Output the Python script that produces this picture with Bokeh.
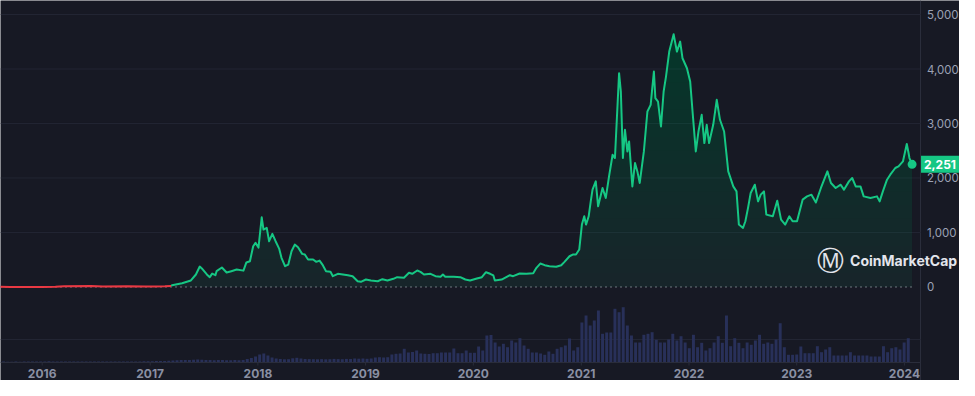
import numpy as np
import pandas as pd
from bokeh.plotting import figure
from bokeh.models import Range1d, Span, Label
from bokeh.core.properties import value
from bokeh.embed import file_html
from bokeh.resources import INLINE

# ---------------- data ----------------
price_dates = [
    "2015-08-10", "2015-09-15", "2015-10-20", "2016-01-01", "2016-02-15", "2016-03-15",
    "2016-06-15", "2016-07-25", "2016-10-15", "2016-12-15", "2017-01-15", "2017-02-20",
    "2017-03-13", "2017-03-16", "2017-04-19", "2017-05-19", "2017-06-05", "2017-06-18",
    "2017-06-25", "2017-07-12", "2017-07-22", "2017-07-30", "2017-08-10", "2017-08-14",
    "2017-09-01", "2017-09-17", "2017-10-03", "2017-10-21", "2017-11-13", "2017-11-23",
    "2017-12-05", "2017-12-16", "2017-12-24", "2018-01-03", "2018-01-14", "2018-01-20",
    "2018-01-31", "2018-02-08", "2018-02-19", "2018-03-02", "2018-03-14", "2018-03-22",
    "2018-04-03", "2018-04-14", "2018-04-25", "2018-05-06", "2018-05-17", "2018-05-31",
    "2018-06-09", "2018-06-20", "2018-07-07", "2018-07-18", "2018-07-29", "2018-08-09",
    "2018-08-20", "2018-09-04", "2018-09-12", "2018-09-29", "2018-10-16", "2018-11-02",
    "2018-11-18", "2018-12-05", "2018-12-16", "2019-01-02", "2019-01-19", "2019-02-11",
    "2019-02-27", "2019-03-16", "2019-04-05", "2019-04-18", "2019-05-11", "2019-05-28",
    "2019-06-08", "2019-06-25", "2019-07-06", "2019-07-18", "2019-08-09", "2019-08-26",
    "2019-09-12", "2019-09-20", "2019-09-28", "2019-10-27", "2019-11-18", "2019-12-05",
    "2019-12-21", "2020-01-13", "2020-01-30", "2020-02-13", "2020-02-27", "2020-03-09",
    "2020-03-14", "2020-04-06", "2020-05-04", "2020-05-15", "2020-06-06", "2020-06-29",
    "2020-07-22", "2020-08-02", "2020-08-15", "2020-08-30", "2020-09-15", "2020-10-08",
    "2020-10-25", "2020-11-05", "2020-11-22", "2020-12-03", "2020-12-14", "2020-12-25",
    "2021-01-03", "2021-01-11", "2021-01-17", "2021-01-26", "2021-02-02", "2021-02-08",
    "2021-02-19", "2021-02-27", "2021-03-14", "2021-03-25", "2021-04-05", "2021-04-17",
    "2021-04-25", "2021-05-09", "2021-05-15", "2021-05-22", "2021-05-29", "2021-06-06",
    "2021-06-12", "2021-06-23", "2021-07-02", "2021-07-10", "2021-07-18", "2021-08-01",
    "2021-08-13", "2021-08-24", "2021-09-04", "2021-09-09", "2021-09-18", "2021-09-28",
    "2021-10-07", "2021-10-15", "2021-10-26", "2021-11-10", "2021-11-21", "2021-12-02",
    "2021-12-10", "2021-12-25", "2022-01-05", "2022-01-13", "2022-01-24", "2022-02-02",
    "2022-02-13", "2022-02-22", "2022-03-02", "2022-03-10", "2022-03-24", "2022-04-05",
    "2022-04-16", "2022-04-30", "2022-05-14", "2022-05-31", "2022-06-11", "2022-06-19",
    "2022-07-03", "2022-07-11", "2022-07-20", "2022-07-29", "2022-08-12", "2022-08-23",
    "2022-09-01", "2022-09-12", "2022-09-20", "2022-10-12", "2022-10-27", "2022-11-09",
    "2022-11-23", "2022-12-07", "2022-12-18", "2023-01-02", "2023-01-21", "2023-02-05",
    "2023-02-20", "2023-03-07", "2023-03-24", "2023-04-15", "2023-04-27", "2023-05-13",
    "2023-05-30", "2023-06-10", "2023-06-27", "2023-07-08", "2023-07-20", "2023-08-05",
    "2023-08-16", "2023-09-08", "2023-09-30", "2023-10-09", "2023-10-20", "2023-11-03",
    "2023-11-14", "2023-12-01", "2023-12-12", "2023-12-27", "2024-01-09", "2024-01-15",
    "2024-01-18", "2024-01-27",
]
price_values = [
    2.8, 1.0, 0.6, 1.0, 5, 12,
    18, 11, 12, 8, 10, 13,
    20, 33, 70, 120, 229, 375,
    340, 230, 180, 245, 216, 290,
    357, 265, 290, 320, 300, 450,
    473, 747, 809, 723, 1278, 1053,
    1084, 840, 974, 840, 705, 535,
    381, 412, 656, 778, 729, 608,
    595, 504, 504, 461, 485, 400,
    290, 278, 198, 242, 229, 216,
    198, 106, 95, 137, 119, 106,
    143, 119, 150, 180, 168, 260,
    242, 302, 278, 229, 242, 198,
    187, 229, 187, 187, 180, 137,
    119, 156, 180, 271, 242, 211,
    119, 137, 216, 198, 247, 242,
    253, 352, 430, 400, 381, 370,
    400, 461, 564, 595, 595, 687,
    1145, 1297, 1145, 1297, 1571, 1786,
    1938, 1480, 1817, 1634, 2029, 2427,
    2366, 3923, 3587, 2366, 2885, 2487,
    2670, 1846, 2275, 2121, 1909, 2487,
    3220, 3342, 3953, 3465, 3403, 2945,
    3587, 3861, 4319, 4636, 4319, 4502,
    4197, 4014, 3770, 3220, 2487, 2853,
    3159, 2641, 2976, 2641, 2976, 3434,
    3068, 2853, 2121, 1846, 1755, 1145,
    1084, 1206, 1451, 1725, 1877, 1571,
    1694, 1755, 1328, 1297, 1584, 1236,
    1145, 1297, 1206, 1206, 1603, 1663,
    1694, 1550, 1817, 2121, 1909, 1817,
    1877, 1786, 1938, 2000, 1846, 1846,
    1663, 1634, 1663, 1571, 1755, 1969,
    2060, 2183, 2212, 2304, 2623, 2458,
    2366, 2251,
]
red_until = "2017-03-13"          # early stretch drawn in red

volume_start = "2015-08-09"        # one bar every 14 days
volume_values = [
    1.0, 0.9, 0.8, 0.8, 0.9, 0.8, 0.9, 1.0, 0.9, 1.0, 1.1, 1.0, 1.2, 1.1, 1.0, 1.0, 1.1, 1.0,
    0.9, 1.0, 1.0, 1.1, 1.0, 1.0, 0.9, 1.0, 1.0, 0.9, 1.0, 1.0, 1.1, 1.0, 1.0, 1.1, 1.1, 1.2,
    1.2, 1.3, 1.5, 1.6, 1.6, 1.8, 2.0, 2.2, 2.5, 2.4,
    2.6, 2.8, 3.0, 2.7, 2.6, 2.5, 2.3, 2.4, 2.5, 2.3, 2.2, 2.4, 2.2, 2.5,
    3.5, 4.5, 6.0, 8.0, 9.0, 7.0, 5.0,
    4.0, 3.5, 3.2, 3.3, 4.2, 4.7, 4.0, 3.5, 3.4, 3.3, 3.2, 3.4, 3.2, 3.3, 3.6, 3.4, 3.3, 3.6, 3.5, 4.0,
    3.8, 4.0, 3.7, 4.0, 5.0, 5.3, 5.0, 5.3,
    8.0, 8.7, 9.0, 13.7, 10.0, 10.5, 12.0, 9.0, 8.7, 8.5, 9.3, 9.3, 10.0, 10.0, 10.0, 14.0,
    9.3, 9.3, 12.0, 9.7, 9.7, 16.0, 12.0,
    27.0, 27.5, 20.0, 16.0, 18.7, 15.3, 22.0, 20.0, 24.3, 17.0, 13.7, 10.0, 10.0, 9.0, 7.7, 11.0, 8.7,
    13.7, 15.3, 17.0, 24.0, 12.0, 15.3, 40.0, 47.0, 37.0, 42.0, 52.0, 28.7, 30.0, 30.0, 53.7,
    50.3, 55.3, 37.0, 27.0,
    20.0, 20.0, 27.7, 28.7, 30.3, 22.7, 20.0, 20.0, 23.0, 28.7, 22.0, 26.3, 20.0, 14.3, 27.7,
    15.3, 19.7, 12.0, 14.3, 20.0, 26.3, 19.7, 47.0, 16.3, 24.3, 19.7, 14.3, 20.0, 17.7, 22.0,
    27.7, 18.7, 20.0, 18.7, 23.0, 39.3, 15.3,
    7.7, 7.7, 8.0, 16.0, 9.3, 9.3, 9.3, 16.3, 10.3, 13.0, 15.3, 7.0, 7.0, 7.0, 7.0, 10.3, 7.0,
    7.0, 7.0, 7.0, 6.0, 6.0, 6.0, 16.3, 10.3, 14.3, 15.3, 13.0, 20.0, 24.3,
]
volume_grid = 23.0

year_ticks = ["2016-01-01", "2017-01-01", "2018-01-01", "2019-01-01", "2020-01-01",
              "2021-01-01", "2022-01-01", "2023-01-01", "2024-01-01"]
year_labels = ["2016", "2017", "2018", "2019", "2020", "2021", "2022", "2023", "2024"]
price_ticks = [0, 1000, 2000, 3000, 4000, 5000]

# ---------------- style ----------------
BG = "#171924"
GREEN = "#16c784"
RED = "#ea3943"
GRID = "#222533"
AXIS = "#2a2d3b"
VOL = "#283059"
FONT = "Inter"

W, H = 959, 380
SX = 920 / 927          # horizontal squeeze so the price scale fits

def ms(ts):
    return pd.Timestamp(ts).value / 1e6

def ref_date(px):
    # horizontal position in the reference picture -> date
    return pd.Timestamp("2016-01-01") + pd.Timedelta(days=(px - 42) * 365.25 / 108.6)

dates = pd.to_datetime(price_dates)
prices = np.array(price_values, dtype=float)
vol_dates = pd.date_range(volume_start, periods=len(volume_values), freq="14D")
tick_ms = [ms(t) for t in year_ticks]

x_start = ms(ref_date(0))
x_end = ms(ref_date(W / SX))
axis_x = ms(ref_date(927))          # price-scale separator
label_x = ms(ref_date(926.5 / SX))  # price-scale labels
badge_x = ms(ref_date(939.5 / SX))
dots_end = ms(ref_date(920))

p = figure(frame_width=W, frame_height=H, x_axis_type="datetime",
           x_range=Range1d(x_start, x_end),
           y_range=Range1d(-1716, 5257),
           x_axis_location=None, y_axis_location=None,
           output_backend="svg", toolbar_location=None,
           background_fill_color=BG, border_fill_color=BG,
           min_border_left=0, min_border_top=0, min_border_right=0,
           min_border_bottom=0)
p.outline_line_color = None
p.extra_y_ranges = {"vol": Range1d(-18, 362)}
p.xgrid.visible = False
p.ygrid.visible = False

# price grid lines (stop at the price scale)
grid_levels = price_ticks[1:]
p.segment(x0=x_start, x1=axis_x, y0=grid_levels, y1=grid_levels,
          line_color=GRID, line_width=1)
# volume grid line
p.segment(x0=[x_start], x1=[axis_x], y0=[volume_grid], y1=[volume_grid],
          line_color=GRID, line_width=1, y_range_name="vol")
# dotted zero line
p.segment(x0=[x_start], x1=[dots_end], y0=[price_ticks[0]], y1=[price_ticks[0]],
          line_color="#c9ccd6", line_dash="1 4", line_width=1)

# price-scale separator
p.add_layout(Span(location=axis_x, dimension="height", line_color=AXIS,
                  line_width=1, level="underlay"))

# volume bars
p.vbar(x=vol_dates, top=volume_values, bottom=0, width=10 * 86400000,
       fill_color=VOL, line_color=None, y_range_name="vol")

# time axis: base line, ticks, year labels
p.segment(x0=[x_start], x1=[axis_x], y0=[0], y1=[0], line_color=AXIS,
          line_width=1, y_range_name="vol")
p.segment(x0=tick_ms, x1=tick_ms, y0=0, y1=-3, line_color=AXIS, line_width=1,
          y_range_name="vol")
p.text(x=tick_ms, y=[-11] * len(tick_ms), text=year_labels, y_range_name="vol",
       text_color="#8a90a3", text_font=value(FONT), text_font_size="12px",
       text_font_style="bold", text_align="center", text_baseline="middle")

# gradient-like area fill under the price line
thresholds = np.arange(0, 4750, 250)
for t in thresholds:
    p.varea(x=dates, y1=t, y2=np.maximum(prices, t), fill_color=GREEN,
            fill_alpha=0.07 if t == 0 else 0.0095)

# price line
green_mask = dates >= pd.Timestamp(red_until)
red_mask = dates <= pd.Timestamp(red_until)
p.line(dates[green_mask], prices[green_mask], line_color=GREEN, line_width=2,
       line_join="round")
p.line(dates[red_mask], prices[red_mask], line_color=RED, line_width=2)

# price-scale labels
p.text(x=[label_x] * len(price_ticks), y=price_ticks,
       text=[f"{v:,}" for v in price_ticks],
       text_color="#9ba1b4", text_font=value(FONT), text_font_size="11.5px",
       text_align="left", text_baseline="middle")

# last point + badge
p.scatter(x=[dates[-1]], y=[prices[-1]], size=9, fill_color=GREEN, line_color=None)
badge = Label(x=badge_x, y=prices[-1],
              text=f"{int(prices[-1]):,}", text_color="white",
              text_font=FONT, text_font_size="12px", text_font_style="bold",
              text_align="center", text_baseline="middle",
              background_fill_color=GREEN, padding=(3, 4))
p.add_layout(badge)

# watermark
icon = Label(x=ms(ref_date(836.5)), y=495, text="Ⓜ", text_color="#e3e5ec",
             text_font="DejaVu Sans", text_font_size="27px",
             text_align="center", text_baseline="middle")
brand = Label(x=ms(ref_date(856)), y=486, text="CoinMarketCap", text_color="#e3e5ec",
              text_font=FONT, text_font_size="14px", text_font_style="bold",
              text_align="left", text_baseline="middle")
p.add_layout(icon)
p.add_layout(brand)

open("out.html", "w").write(file_html(p, INLINE))
